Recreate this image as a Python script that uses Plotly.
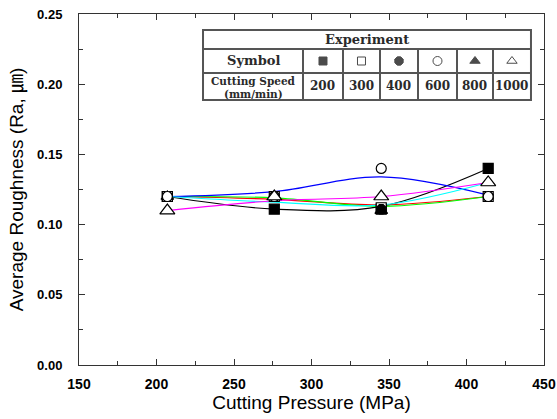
import plotly.graph_objects as go

# ---------------- data ----------------
pressure = [207, 276, 345, 414]  # MPa
speeds = [200, 300, 400, 600, 800, 1000]  # mm/min
speed_labels = ["200", "300", "400", "600", "800", "1000"]

# measured roughness (markers)
ra_200 = [0.120, 0.111, 0.111, 0.140]
ra_300 = [0.120, 0.120, 0.112, 0.120]
ra_400 = [0.120, 0.120, 0.111, 0.120]
ra_600 = [0.120, 0.120, 0.140, 0.120]
ra_800 = [0.120, 0.120, 0.110, 0.130]
ra_1000 = [0.110, 0.120, 0.120, 0.130]

# smoothed trend curves (lines)
fit_200 = [0.120, 0.111, 0.113, 0.140]
fit_300 = [0.120, 0.118, 0.114, 0.120]
fit_400 = [0.120, 0.119, 0.113, 0.120]
fit_600 = [0.120, 0.1235, 0.134, 0.121]
fit_800 = [0.120, 0.116, 0.114, 0.130]
fit_1000 = [0.110, 0.117, 0.120, 0.130]

series_ra = [ra_200, ra_300, ra_400, ra_600, ra_800, ra_1000]
series_fit = [fit_200, fit_300, fit_400, fit_600, fit_800, fit_1000]
line_colors = ["#000000", "#ff0000", "#00ff00", "#0000ff", "#00ffff", "#ff00ff"]
symbols = ["square", "square", "octagon", "circle", "triangle-up", "triangle-up"]
fills = ["black", "white", "black", "white", "black", "white"]
sizes = [10, 10, 10, 10, 11, 13]
marker_order = [0, 1, 2, 4, 3, 5]

XMIN, XMAX = 150, 450
YMIN, YMAX = 0.0, 0.25

fig = go.Figure()

for i in range(6):
    fig.add_trace(go.Scatter(
        x=pressure, y=series_fit[i], mode="lines",
        line=dict(color=line_colors[i], width=1.2, shape="spline", smoothing=1.0),
        showlegend=False, hoverinfo="skip"))

for i in marker_order:
    fig.add_trace(go.Scatter(
        x=pressure, y=series_ra[i], mode="markers",
        marker=dict(symbol=symbols[i], size=sizes[i], color=fills[i],
                    line=dict(color="black", width=1.2)),
        showlegend=False, name=f"{speeds[i]} mm/min"))

# ---------------- legend table (paper coords) ----------------
col_x = [0.2667, 0.4817, 0.5677, 0.6473, 0.7290, 0.8129, 0.8903, 0.9720]
row_y = [0.9544, 0.9003, 0.8319, 0.7550]
tcol = "#555555"

shapes = []
shapes.append(dict(type="rect", xref="paper", yref="paper",
                   x0=col_x[0], x1=col_x[-1], y0=row_y[-1], y1=row_y[0],
                   line=dict(color=tcol, width=2), fillcolor="white", layer="below"))
for ry in row_y[1:3]:
    shapes.append(dict(type="line", xref="paper", yref="paper",
                       x0=col_x[0], x1=col_x[-1], y0=ry, y1=ry,
                       line=dict(color=tcol, width=2), layer="below"))
for cx in col_x[1:-1]:
    shapes.append(dict(type="line", xref="paper", yref="paper",
                       x0=cx, x1=cx, y0=row_y[-1], y1=row_y[1],
                       line=dict(color=tcol, width=2), layer="below"))

tfam = "DejaVu Serif, Liberation Serif, serif"
tfont = dict(family=tfam, size=13, color="#2a2a2a")
nfont = dict(family=tfam, size=12, color="#2a2a2a")
sfont = dict(family=tfam, size=10.5, color="#2a2a2a")
ann = []


def cell(x, y, text, font):
    ann.append(dict(xref="paper", yref="paper", x=x, y=y, text=text,
                    xanchor="center", yanchor="middle", showarrow=False, font=font))


cell((col_x[0] + col_x[-1]) / 2, (row_y[0] + row_y[1]) / 2, "<b>Experiment</b>", tfont)
cell((col_x[0] + col_x[1]) / 2, (row_y[1] + row_y[2]) / 2, "<b>Symbol</b>", tfont)
cell((col_x[0] + col_x[1]) / 2, (row_y[2] + row_y[3]) / 2 + 0.017, "<b>Cutting Speed</b>", sfont)
cell((col_x[0] + col_x[1]) / 2, (row_y[2] + row_y[3]) / 2 - 0.020, "<b>(mm/min)</b>", sfont)
for j in range(6):
    cell((col_x[j + 1] + col_x[j + 2]) / 2, (row_y[2] + row_y[3]) / 2,
         f"<b>{speed_labels[j]}</b>", nfont)

# legend symbols inside the table (converted to data coordinates)
sym_x = [XMIN + (col_x[j + 1] + col_x[j + 2]) / 2 * (XMAX - XMIN) for j in range(6)]
sym_y = [YMIN + (row_y[1] + row_y[2]) / 2 * (YMAX - YMIN)] * 6
fig.add_trace(go.Scatter(
    x=sym_x, y=sym_y, mode="markers", cliponaxis=False,
    marker=dict(symbol=symbols, size=[8, 8, 9, 9, 9, 9], color=fills,
                line=dict(color="black", width=1)),
    showlegend=False, hoverinfo="skip"))

axis_common = dict(
    showline=True, linecolor="#333333", linewidth=1, mirror="ticks",
    ticks="inside", ticklen=6, tickwidth=1, tickcolor="#333333",
    showgrid=False, zeroline=False, automargin=False,
)

title_font = dict(family="Liberation Sans, Arial, Noto Sans CJK KR, sans-serif", size=19, color="black")

fig.update_layout(
    width=557, height=419,
    margin=dict(l=79, r=13, t=14, b=54),
    paper_bgcolor="white", plot_bgcolor="white",
    shapes=shapes, annotations=ann,
    xaxis=dict(range=[XMIN, XMAX], dtick=50, tickformat="d", ticklabelstandoff=6,
               tickfont=dict(family="Liberation Sans, Arial, sans-serif", size=14, color="black"),
               minor=dict(ticks="inside", ticklen=4, dtick=25, tickcolor="#333333"),
               title=dict(text="Cutting Pressure (MPa)", standoff=4, font=title_font),
               **axis_common),
    yaxis=dict(range=[YMIN, YMAX], dtick=0.05, tickformat=".2f", ticklabelstandoff=13,
               tickfont=dict(family="Liberation Sans, Arial, sans-serif", size=13, color="black"),
               minor=dict(ticks="inside", ticklen=4, dtick=0.025, tickcolor="#333333"),
               title=dict(text="Average Roughness (Ra, ㎛)", standoff=8, font=title_font),
               **axis_common),
)
fig.update_xaxes(tickprefix="<b>", ticksuffix="</b>")
fig.update_yaxes(tickprefix="<b>", ticksuffix="</b>")

fig.write_html("out.html", config={"displayModeBar": False},
               post_script="document.body.style.margin='0';document.body.style.overflow='hidden';")
